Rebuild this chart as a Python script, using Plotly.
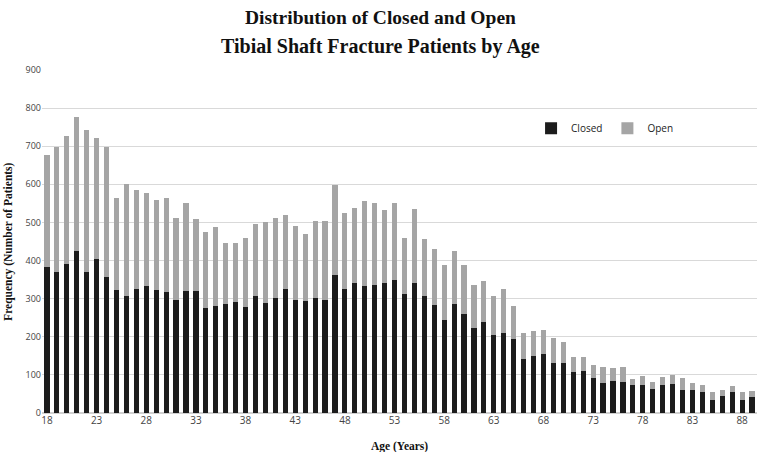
import plotly.graph_objects as go

ages = list(range(18, 90))
closed = [382, 370, 392, 424, 370, 404, 357, 323, 307, 326, 332, 323, 317, 297, 319, 319,
          275, 282, 285, 291, 279, 307, 288, 301, 325, 297, 293, 303, 297, 363, 325, 341,
          334, 337, 341, 350, 312, 341, 307, 284, 243, 287, 259, 224, 240, 205, 211, 193,
          143, 149, 154, 132, 130, 107, 111, 92, 79, 85, 82, 73, 73, 63, 73, 76,
          61, 61, 54, 35, 45, 54, 35, 42]
total = [677, 699, 727, 778, 743, 721, 699, 564, 601, 586, 576, 558, 564, 511, 552, 508,
         476, 489, 445, 445, 458, 496, 501, 511, 519, 491, 469, 504, 504, 598, 524, 539,
         557, 552, 532, 552, 460, 536, 457, 431, 388, 426, 388, 337, 346, 306, 325, 281,
         211, 215, 218, 196, 186, 148, 146, 125, 120, 117, 120, 89, 98, 82, 95, 101,
         92, 79, 73, 54, 61, 70, 54, 57]
open_ = [t - c for t, c in zip(total, closed)]

title_lines = ["Distribution of Closed and Open", "Tibial Shaft Fracture Patients by Age"]
x_title = "Age (Years)"
y_title = "Frequency (Number of Patients)"

serif_bold = dict(family="Liberation Serif", color="#111111", weight="bold")

fig = go.Figure()
fig.add_trace(go.Bar(x=ages, y=closed, name="Closed", marker=dict(color="#1c1c1c", line=dict(width=0))))
fig.add_trace(go.Bar(x=ages, y=open_, name="Open", marker=dict(color="#a5a5a5", line=dict(width=0))))

fig.update_layout(
    barmode="stack",
    bargap=0.48,
    width=762, height=452,
    margin=dict(l=42, r=5, t=70, b=39),
    paper_bgcolor="white", plot_bgcolor="white",
    legend=dict(orientation="h", x=0.684, y=0.83, xanchor="left", yanchor="middle",
                font=dict(family="Open Sans", size=10, color="#222222"),
                itemwidth=30, traceorder="normal", bgcolor="rgba(0,0,0,0)"),
    showlegend=True,
    annotations=[
        dict(text=title_lines[0], xref="paper", yref="paper", x=0.474, y=1.152,
             xanchor="center", yanchor="middle", showarrow=False, font=dict(size=19.5, **serif_bold)),
        dict(text=title_lines[1], xref="paper", yref="paper", x=0.474, y=1.069,
             xanchor="center", yanchor="middle", showarrow=False, font=dict(size=20, **serif_bold)),
        dict(text=x_title, xref="paper", yref="paper", x=0.5, y=-0.098,
             xanchor="center", yanchor="middle", showarrow=False, font=dict(size=11.5, **serif_bold)),
        dict(text=y_title, xref="paper", yref="paper", x=-0.047, y=0.5, textangle=-90,
             xanchor="center", yanchor="middle", showarrow=False, font=dict(size=11.5, **serif_bold)),
    ],
)
fig.update_xaxes(
    range=[17.5, 89.5], tickmode="linear", tick0=18, dtick=5, automargin=False,
    showgrid=False, zeroline=False, showline=False, ticklen=0,
    tickfont=dict(family="Open Sans", size=10, color="#444444"),
)
fig.update_yaxes(
    range=[0, 900], tickmode="linear", tick0=0, dtick=100, automargin=False,
    showgrid=True, gridcolor="#d9d9d9", gridwidth=1, zeroline=True, zerolinecolor="#d0d0d0",
    showline=False,
    tickfont=dict(family="Open Sans", size=9, color="#444444"),
)

fig.write_html("out.html", config={"displayModeBar": False},
               post_script="document.body.style.margin='0';")
